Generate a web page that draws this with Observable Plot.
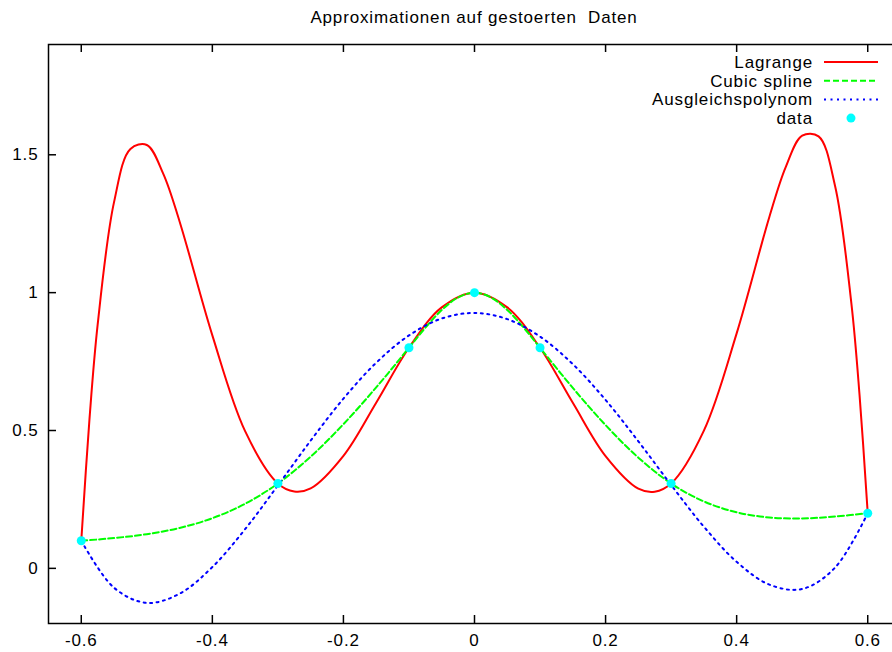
<!DOCTYPE html>
<html>
<head>
<meta charset="utf-8">
<script src="https://cdn.jsdelivr.net/npm/d3@7"></script>
<script src="https://cdn.jsdelivr.net/npm/@observablehq/plot@0.6"></script>
<style>
  html, body { margin: 0; padding: 0; background: #fff; overflow: hidden; }
  #wrap { position: relative; width: 892px; height: 652px; overflow: hidden; background: #fff; }
  #chart { position: absolute; left: 0; top: 0; }
  #overlay { position: absolute; left: 0; top: 0; pointer-events: none; }
  text { font-family: "Liberation Sans", Arial, sans-serif; }
</style>
</head>
<body>
<div id="wrap">
  <div id="chart"></div>
  <svg id="overlay" width="892" height="652"></svg>
</div>
<script>
// ---- data ----
const title = "Approximationen auf gestoerten  Daten";
const seriesNames = ["Lagrange", "Cubic spline", "Ausgleichspolynom", "data"];

const dataX = [-0.6, -0.3, -0.1, 0, 0.1, 0.3, 0.6];
const dataY = [0.1, 0.3077, 0.8, 1, 0.8, 0.3077, 0.2];

const lagrangeX = [-0.6, -0.5875, -0.575, -0.55, -0.525, -0.5, -0.475, -0.45, -0.4, -0.35, -0.3, -0.275, -0.25, -0.2, -0.15, -0.1, -0.05, 0, 0.05, 0.1, 0.15, 0.2, 0.25, 0.275, 0.3, 0.35, 0.4, 0.45, 0.475, 0.5, 0.525, 0.55, 0.575, 0.5875, 0.6];
const lagrangeY = [0.1, 0.5404, 0.8838, 1.3283, 1.5212, 1.5356, 1.4319, 1.2583, 0.8449, 0.4975, 0.3077, 0.2786, 0.2897, 0.4079, 0.6007, 0.8, 0.9465, 1, 0.9465, 0.8, 0.6004, 0.4073, 0.2891, 0.2781, 0.3077, 0.4997, 0.8523, 1.2755, 1.4564, 1.5695, 1.5668, 1.3886, 0.9620, 0.6291, 0.2];

const splineX = [-0.6, -0.55, -0.5, -0.45, -0.4, -0.35, -0.3, -0.25, -0.2, -0.15, -0.1, -0.075, -0.05, -0.025, 0, 0.025, 0.05, 0.075, 0.1, 0.15, 0.2, 0.25, 0.3, 0.35, 0.4, 0.45, 0.5, 0.55, 0.6];
const splineY = [0.1, 0.1099, 0.1240, 0.1465, 0.1819, 0.2342, 0.3077, 0.4051, 0.5230, 0.6563, 0.8, 0.8726, 0.9367, 0.9825, 1, 0.9827, 0.9372, 0.8730, 0.8, 0.6545, 0.5195, 0.4016, 0.3077, 0.2427, 0.2033, 0.1845, 0.1811, 0.1880, 0.2];

const fitX = [-0.6, -0.55, -0.5, -0.45, -0.4, -0.35, -0.3, -0.25, -0.2, -0.15, -0.1, -0.05, 0, 0.05, 0.1, 0.15, 0.2, 0.25, 0.3, 0.35, 0.4, 0.45, 0.5, 0.55, 0.6];
const fitY = [0.1004, -0.0704, -0.1253, -0.0919, 0.0047, 0.1421, 0.3007, 0.4633, 0.6155, 0.7457, 0.8448, 0.9062, 0.9263, 0.9039, 0.8406, 0.7406, 0.6108, 0.4607, 0.3025, 0.1510, 0.0237, -0.0591, -0.0748, 0.0023, 0.2002];

const xTicks = [-0.6, -0.4, -0.2, 0, 0.2, 0.4, 0.6];
const yTicks = [0, 0.5, 1, 1.5];

const colors = {lagrange: "#ff0000", spline: "#00ff00", fit: "#0000ff", data: "#00ffff"};

// ---- build tables ----
const lagrange = lagrangeX.map((x, i) => ({x, y: lagrangeY[i]}));
const spline = splineX.map((x, i) => ({x, y: splineY[i]}));
const fit = fitX.map((x, i) => ({x, y: fitY[i]}));
const points = dataX.map((x, i) => ({x, y: dataY[i]}));

const W = 900, H = 652, mT = 44, mB = 29, mL = 48, mR = 0;
const innerW = W - mL - mR, innerH = H - mT - mB, tickLen = 8;

const fmt = d => String(d);
const font = {fontSize: 17, fill: "#000"};
const tickStyle = {stroke: "#000", strokeWidth: 1.5};

const chart = Plot.plot({
  width: W,
  height: H,
  marginTop: mT,
  marginBottom: mB,
  marginLeft: mL,
  marginRight: mR,
  style: {maxWidth: "none", background: "white", fontFamily: "'Liberation Sans', Arial, sans-serif", fontSize: "17px", letterSpacing: "0.85px", overflow: "visible"},
  x: {domain: [-0.65, 0.65], axis: null},
  y: {domain: [-0.2, 1.9], axis: null},
  marks: [
    Plot.line(lagrange, {x: "x", y: "y", stroke: colors.lagrange, strokeWidth: 2, curve: "catmull-rom"}),
    Plot.line(spline, {x: "x", y: "y", stroke: colors.spline, strokeWidth: 2, strokeDasharray: "6,3", curve: "catmull-rom"}),
    Plot.line(fit, {x: "x", y: "y", stroke: colors.fit, strokeWidth: 2, strokeDasharray: "2,4.5", curve: "catmull-rom"}),
    Plot.dot(points, {x: "x", y: "y", r: 4.5, fill: colors.data, stroke: "none"}),
    // inward, mirrored tick marks
    Plot.tickX(xTicks, {x: d => d, insetTop: innerH - tickLen, ...tickStyle}),
    Plot.tickX(xTicks, {x: d => d, insetBottom: innerH - tickLen, ...tickStyle}),
    Plot.tickY(yTicks, {y: d => d, insetRight: innerW - tickLen, ...tickStyle}),
    Plot.tickY(yTicks, {y: d => d, insetLeft: innerW - tickLen, ...tickStyle}),
    // tick labels
    Plot.axisX(xTicks, {anchor: "bottom", tickSize: 0, tickPadding: 10, tickFormat: fmt, label: null, ...font}),
    Plot.axisY(yTicks, {anchor: "left", tickSize: 0, tickPadding: 10, tickFormat: fmt, label: null, ...font}),
    Plot.frame({stroke: "#000", strokeWidth: 1.5})
  ]
});
document.getElementById("chart").appendChild(chart);

// ---- title and legend overlay ----
const ov = d3.select("#overlay");
const textStyle = s => s.attr("font-size", 17).attr("letter-spacing", "0.85px").attr("fill", "#000")
  .attr("font-family", "'Liberation Sans', Arial, sans-serif").style("white-space", "pre");

ov.append("text").attr("xml:space", "preserve").text(title).attr("x", 474).attr("y", 23).attr("text-anchor", "middle").call(textStyle);

const legendRows = [
  {name: seriesNames[0], color: colors.lagrange, dash: null, kind: "line"},
  {name: seriesNames[1], color: colors.spline, dash: "6,3", kind: "line"},
  {name: seriesNames[2], color: colors.fit, dash: "2,4.5", kind: "line"},
  {name: seriesNames[3], color: colors.data, dash: null, kind: "dot"}
];
legendRows.forEach((r, i) => {
  const cy = 62 + i * 18.7;
  ov.append("text").text(r.name).attr("x", 813).attr("y", cy + 6).attr("text-anchor", "end").call(textStyle);
  if (r.kind === "line") {
    ov.append("line").attr("x1", 824).attr("x2", 878).attr("y1", cy).attr("y2", cy)
      .attr("stroke", r.color).attr("stroke-width", 2).attr("stroke-dasharray", r.dash);
  } else {
    ov.append("circle").attr("cx", 851).attr("cy", cy).attr("r", 4.5).attr("fill", r.color);
  }
});
</script>
</body>
</html>
